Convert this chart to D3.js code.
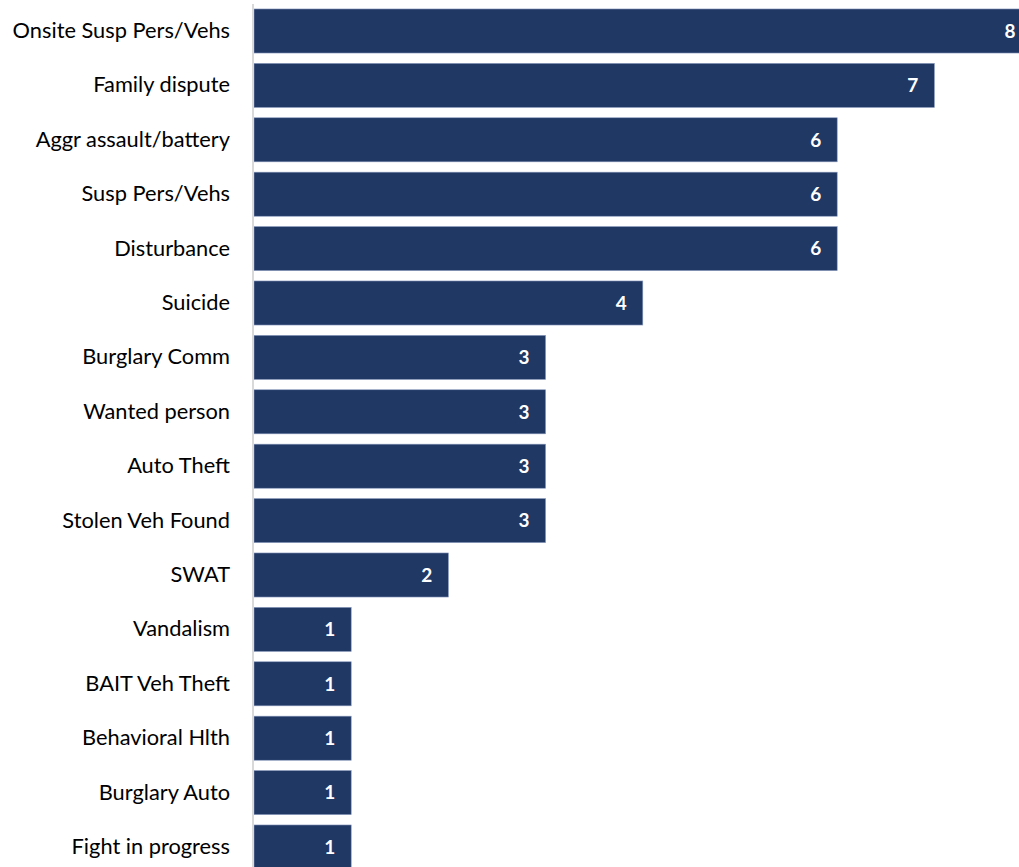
<!DOCTYPE html>
<html><head><meta charset="utf-8">
<script src="https://cdn.jsdelivr.net/npm/d3@7"></script>
<style>html,body{margin:0;padding:0;background:#fff;overflow:hidden}</style>
</head><body>
<svg id="c" width="1019" height="867"></svg>
<script>
const categories = ["Onsite Susp Pers/Vehs","Family dispute","Aggr assault/battery","Susp Pers/Vehs","Disturbance","Suicide","Burglary Comm","Wanted person","Auto Theft","Stolen Veh Found","SWAT","Vandalism","BAIT Veh Theft","Behavioral Hlth","Burglary Auto","Fight in progress"];
const values = [8,7,6,6,6,4,3,3,3,3,2,1,1,1,1,1];

const svg = d3.select("#c");
const x = d3.scaleLinear().domain([0,8]).range([254, 254 + 8*97.2]);
const y = d3.scaleBand().domain(categories).range([3.8, 3.8 + 16*54.4]).paddingInner(0.19).paddingOuter(0.095);
const font = "Lato, 'Open Sans', sans-serif";

svg.selectAll("rect.bar").data(categories).join("rect")
  .attr("x", x(0)).attr("y", (d)=>y(d))
  .attr("width", (d,i)=>x(values[i]) - x(0)).attr("height", y.bandwidth())
  .attr("fill", "#203864").attr("stroke", "#8a9bbf").attr("stroke-width", 0.6);

svg.selectAll("text.val").data(categories).join("text")
  .attr("x", (d,i)=>x(values[i]) - 16).attr("y", d=>y(d)+y.bandwidth()/2)
  .attr("dy","0.36em").attr("text-anchor","end")
  .attr("font-family", font).attr("font-weight","bold").attr("font-size","19px").attr("fill","#fff")
  .text((d,i)=>values[i]);

const yAxis = svg.append("g").attr("transform", "translate(253,0)")
  .call(d3.axisLeft(y).tickSize(0).tickPadding(23));
yAxis.select(".domain").attr("stroke","#d9d9d9").attr("stroke-width",2).attr("d","M0,4V867");
yAxis.selectAll("text").attr("font-family", font).attr("font-size","21.8px").attr("fill","#000");
</script>
</body></html>
